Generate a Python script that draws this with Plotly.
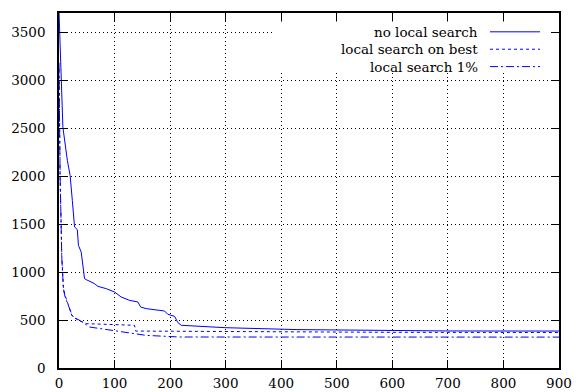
import plotly.graph_objects as go

# ---- data ----
x_none = [0, 7, 15, 20, 24, 28, 33, 35, 40, 46, 49, 64, 70, 85, 100, 112, 127, 142, 147, 157,
          190, 196, 208, 214, 220, 300, 430, 500, 600, 700, 900]
y_none = [3720, 2510, 2164, 2007, 1745, 1469, 1442, 1278, 1208, 931, 921, 879, 851, 827, 792, 740,
          705, 688, 635, 619, 594, 559, 539, 473, 445, 420, 400, 395, 388, 386, 385]

x_best = [0, 2, 5, 8, 11, 17, 20, 23, 26, 35, 50, 80, 136, 138, 300, 600, 900]
y_best = [3180, 2000, 1170, 830, 757, 653, 619, 549, 531, 497, 462, 455, 445, 385, 378, 372, 370]

x_one = [0, 2, 5, 8, 11, 17, 20, 23, 26, 37, 55, 97, 157, 217, 300, 600, 900]
y_one = [3150, 2000, 1150, 820, 740, 640, 600, 560, 530, 497, 427, 393, 340, 323, 322, 322, 322]

series_names = ["no local search", "local search on best", "local search 1%"]
series_dash = ["solid", "3px,3px", "8px,3px,2px,3px"]

x_ticks = [0, 100, 200, 300, 400, 500, 600, 700, 800, 900]
y_ticks = [0, 500, 1000, 1500, 2000, 2500, 3000, 3500]

COLOR = "#0000ff"
FONT = "DejaVu Serif"
FSIZE = 13.5

fig = go.Figure()
for xs, ys, name, dash in zip([x_none, x_best, x_one], [y_none, y_best, y_one], series_names, series_dash):
    fig.add_trace(go.Scatter(x=xs, y=ys, mode="lines", name=name,
                             line=dict(color=COLOR, width=1, dash=dash)))

# legend (gnuplot style: text right-aligned, sample on the right), with opaque white box
shapes = [dict(type="rect", xref="paper", yref="paper", x0=0.432, x1=0.983, y0=0.831, y1=0.976,
               fillcolor="white", line=dict(width=0), layer="above")]
annotations = []
leg_y = [0.947, 0.898, 0.849]
for name, dash, ly in zip(series_names, series_dash, leg_y):
    annotations.append(dict(xref="paper", yref="paper", x=0.842, y=ly, text=name, showarrow=False,
                            xanchor="right", yanchor="middle",
                            font=dict(family=FONT, size=FSIZE, color="black")))
    shapes.append(dict(type="line", xref="paper", yref="paper", x0=0.862, x1=0.962, y0=ly, y1=ly,
                       line=dict(color=COLOR, width=1, dash=dash), layer="above"))

axis_common = dict(showline=True, linecolor="black", linewidth=1.5, mirror="ticks",
                   ticks="inside", ticklen=8, tickcolor="black", tickwidth=1,
                   showgrid=True, gridcolor="black", gridwidth=1, griddash="1px,3px",
                   zeroline=False, automargin=False,
                   tickfont=dict(family=FONT, size=FSIZE, color="black"))

fig.update_layout(
    width=584, height=392,
    margin=dict(l=59, r=25, t=13, b=24),
    paper_bgcolor="white", plot_bgcolor="white",
    showlegend=False,
    font=dict(family=FONT, size=FSIZE, color="black"),
    shapes=shapes, annotations=annotations,
    xaxis=dict(range=[0, 900], tickvals=x_ticks, ticklabelstandoff=2, **axis_common),
    yaxis=dict(range=[0, 3700], tickvals=y_ticks, ticklabelstandoff=9, **axis_common),
)

fig.write_html("out.html")
